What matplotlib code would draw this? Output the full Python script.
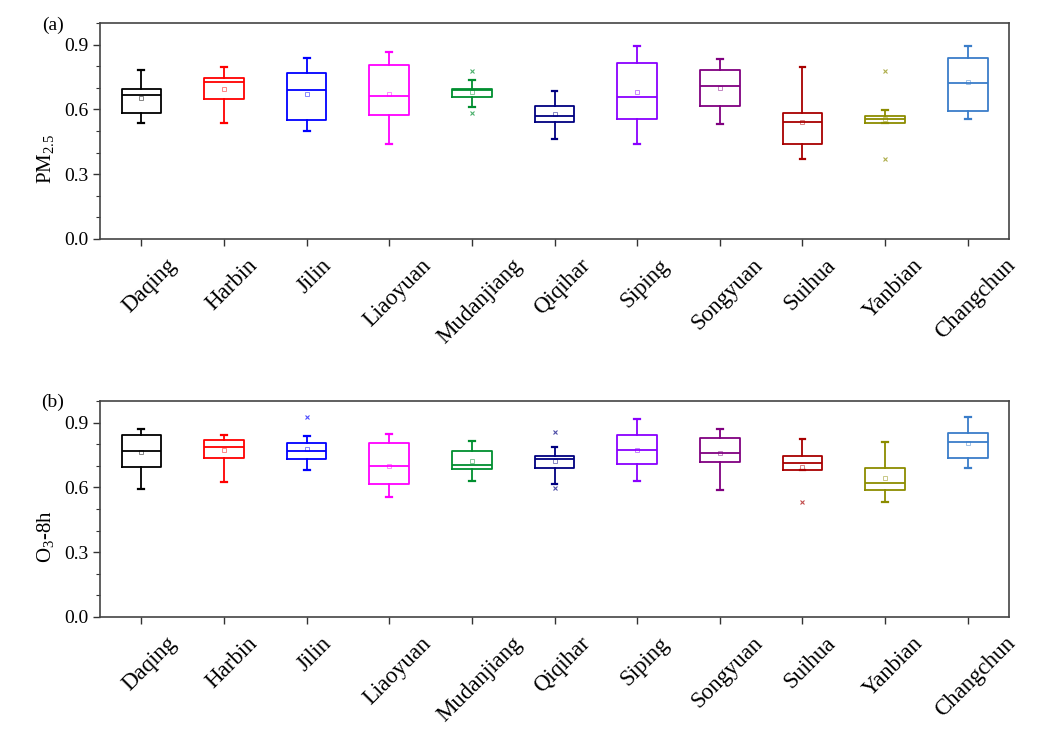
import numpy as np
import matplotlib
matplotlib.use("Agg")
import matplotlib.pyplot as plt
from matplotlib.ticker import MultipleLocator
import matplotlib.transforms as mtransforms

plt.rcParams["font.family"] = ["Liberation Serif", "DejaVu Serif"]
plt.rcParams["mathtext.fontset"] = "custom"
plt.rcParams["mathtext.rm"] = "Liberation Serif"

# ── data ─────────────────────────────────────────────────────────────
cities = ["Daqing", "Harbin", "Jilin", "Liaoyuan", "Mudanjiang", "Qiqihar",
          "Siping", "Songyuan", "Suihua", "Yanbian", "Changchun"]
colors = ["#000000", "#FF0000", "#0000FF", "#FF00FF", "#008F2F", "#000080",
          "#8A00FF", "#800080", "#A80000", "#8C8C00", "#3A7DC9"]

# PM2.5
pm_low  = [0.536, 0.537, 0.502, 0.440, 0.612, 0.463, 0.438, 0.534, 0.370, 0.536, 0.556]
pm_q1   = [0.581, 0.646, 0.550, 0.572, 0.658, 0.542, 0.556, 0.616, 0.440, 0.536, 0.592]
pm_med  = [0.666, 0.725, 0.689, 0.663, 0.689, 0.570, 0.655, 0.709, 0.542, 0.555, 0.720]
pm_q3   = [0.692, 0.745, 0.768, 0.805, 0.695, 0.616, 0.815, 0.781, 0.582, 0.570, 0.840]
pm_high = [0.781, 0.796, 0.840, 0.864, 0.734, 0.683, 0.892, 0.835, 0.795, 0.595, 0.892]
pm_mean = [0.654, 0.695, 0.671, 0.671, 0.680, 0.578, 0.680, 0.699, 0.542, 0.555, 0.726]
pm_out  = [[], [], [], [], [0.778, 0.584], [], [], [], [], [0.778, 0.370], []]

# O3-8h
o3_low  = [0.591, 0.623, 0.682, 0.554, 0.628, 0.617, 0.629, 0.588, 0.682, 0.533, 0.690]
o3_q1   = [0.693, 0.738, 0.730, 0.617, 0.685, 0.691, 0.708, 0.719, 0.682, 0.589, 0.738]
o3_med  = [0.767, 0.786, 0.770, 0.699, 0.705, 0.730, 0.773, 0.761, 0.713, 0.622, 0.812]
o3_q3   = [0.841, 0.821, 0.806, 0.806, 0.769, 0.747, 0.841, 0.829, 0.745, 0.690, 0.852]
o3_high = [0.869, 0.844, 0.840, 0.849, 0.813, 0.787, 0.917, 0.871, 0.823, 0.812, 0.926]
o3_mean = [0.764, 0.772, 0.776, 0.700, 0.722, 0.722, 0.773, 0.758, 0.696, 0.643, 0.807]
o3_out  = [[], [], [0.925], [], [], [0.855, 0.598], [], [], [0.533], [], []]


def make_stats(low, q1, med, q3, high, mean, out):
    return [dict(whislo=a, q1=b, med=c, q3=d, whishi=e, mean=f, fliers=g)
            for a, b, c, d, e, f, g in zip(low, q1, med, q3, high, mean, out)]


def draw_panel(ax, stats, ylabel):
    pos = np.arange(1, len(cities) + 1)
    for p, st, col in zip(pos, stats, colors):
        ax.bxp([st], positions=[p], widths=0.48, showmeans=True, showcaps=True,
               capwidths=0.07,
               boxprops=dict(color=col, lw=1.3),
               medianprops=dict(color=col, lw=1.3),
               whiskerprops=dict(color=col, lw=1.3),
               capprops=dict(color=col, lw=1.6),
               meanprops=dict(marker="s", markersize=3, markerfacecolor="none",
                              markeredgecolor=col, markeredgewidth=0.6,
                              alpha=0.55),
               flierprops=dict(marker="x", markersize=3, markeredgecolor=col,
                               markeredgewidth=0.8, alpha=0.7))
    ax.set_xlim(0.5, 11.5)
    ax.set_ylim(0, 1.0)
    ax.yaxis.set_minor_locator(MultipleLocator(0.1))
    ax.set_yticks([0.0, 0.3, 0.6, 0.9])
    ax.set_yticklabels(["0.0", "0.3", "0.6", "0.9"])
    ax.set_xticks(pos)
    ax.set_xticklabels([])
    # rotated city names, nudged a bit right of the tick like the original
    trans = ax.get_xaxis_transform() + mtransforms.ScaledTranslation(
        8 / 100, -16 / 100, ax.figure.dpi_scale_trans)
    for p, name in zip(pos, cities):
        ax.text(p, 0, name, transform=trans, rotation=45, ha="center",
                va="top", fontsize=16.5)
    ax.tick_params(axis="both", which="major", direction="out", length=5,
                   width=1.0, labelsize=14, color="#333333")
    ax.tick_params(axis="y", which="minor", direction="out", length=3,
                   width=0.8, color="#333333")
    for s in ax.spines.values():
        s.set_linewidth(1.2)
        s.set_color("#444444")
    ax.set_ylabel(ylabel, fontsize=15)
    ax.yaxis.set_label_coords(-0.047, 0.37)


fig = plt.figure(figsize=(10.43, 7.36), dpi=100)
ax1 = fig.add_axes([0.0959, 0.6753, 0.8715, 0.2935])
ax2 = fig.add_axes([0.0959, 0.1617, 0.8715, 0.2935])

draw_panel(ax1, make_stats(pm_low, pm_q1, pm_med, pm_q3, pm_high, pm_mean, pm_out),
           r"PM$_{\mathregular{2.5}}$")
draw_panel(ax2, make_stats(o3_low, o3_q1, o3_med, o3_q3, o3_high, o3_mean, o3_out),
           r"O$_{\mathregular{3}}$-8h")

fig.text(0.040, 0.977, "(a)", fontsize=14, va="top", ha="left")
fig.text(0.039, 0.465, "(b)", fontsize=14, va="top", ha="left")

fig.savefig("out.png", dpi=100)
